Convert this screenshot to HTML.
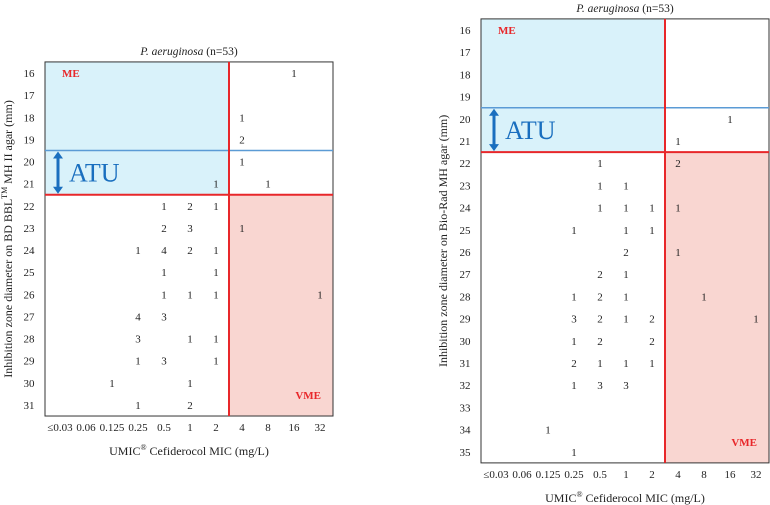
<!DOCTYPE html>
<html><head><meta charset="utf-8"><style>
body{margin:0;background:#fff;}
svg{display:block;font-family:"Liberation Serif",serif;}
</style></head><body>
<svg id="chart" width="770" height="505" viewBox="0 0 770 505"></svg>
<script>
const micLabels = ["≤0.03","0.06","0.125","0.25","0.5","1","2","4","8","16","32"];
const leftRows = [16,17,18,19,20,21,22,23,24,25,26,27,28,29,30,31];
const rightRows = [16,17,18,19,20,21,22,23,24,25,26,27,28,29,30,31,32,33,34,35];
// [zone diameter, MIC index, count]
const leftCounts = [[16,9,1],[18,7,1],[19,7,2],[20,7,1],[21,6,1],[21,8,1],
 [22,4,1],[22,5,2],[22,6,1],[23,4,2],[23,5,3],[23,7,1],
 [24,3,1],[24,4,4],[24,5,2],[24,6,1],[25,4,1],[25,6,1],
 [26,4,1],[26,5,1],[26,6,1],[26,10,1],[27,3,4],[27,4,3],
 [28,3,3],[28,5,1],[28,6,1],[29,3,1],[29,4,3],[29,6,1],
 [30,2,1],[30,5,1],[31,3,1],[31,5,2]];
const rightCounts = [[20,9,1],[21,7,1],[22,4,1],[22,7,2],[23,4,1],[23,5,1],
 [24,4,1],[24,5,1],[24,6,1],[24,7,1],[25,3,1],[25,5,1],[25,6,1],
 [26,5,2],[26,7,1],[27,4,2],[27,5,1],[28,3,1],[28,4,2],[28,5,1],[28,8,1],
 [29,3,3],[29,4,2],[29,5,1],[29,6,2],[29,10,1],[30,3,1],[30,4,2],[30,6,2],
 [31,3,2],[31,4,1],[31,5,1],[31,6,1],[32,3,1],[32,4,3],[32,5,3],[34,2,1],[35,3,1]];
const micBreak = 6.5;   // between 2 and 4
const atuTop = 19.5, atuBottom = 21.5;

const NS="http://www.w3.org/2000/svg";
const svg=document.getElementById('chart');
function mk(tag,attrs,parent,text){const e=document.createElementNS(NS,tag);for(const k in attrs)e.setAttribute(k,attrs[k]);if(text!==undefined)e.textContent=text;(parent||svg).appendChild(e);return e;}

function panel(p){
  const g=mk('g',{});
  
  
  const r0=p.rows[0], rN=p.rows[p.rows.length-1];
  const y=v=>p.y0+(v-r0)*p.dy;
  const x=i=>p.x0+i*26;
  const top=y(r0-0.5), bot=y(rN+0.5), L=p.left, R=p.right;
  const xb=x(micBreak), ya=y(atuTop), yb=y(atuBottom);
  let e;
  e=mk('rect',{x:L,y:top,width:xb-L,height:yb-top,fill:'#d9f2fa'},g);
  
  e=mk('rect',{x:xb,y:yb,width:R-xb,height:bot-yb,fill:'#f9d6d1'},g);
  
  e=mk('rect',{x:L,y:top,width:R-L,height:bot-top,fill:'none',stroke:'#333','stroke-width':1},g);
  
  e=mk('line',{x1:L,x2:R,y1:ya,y2:ya,stroke:'#5b9bd5','stroke-width':1.5},g);
  
  e=mk('line',{x1:L,x2:R,y1:yb,y2:yb,stroke:'#e8272a','stroke-width':2},g);
  
  e=mk('line',{x1:xb,x2:xb,y1:top,y2:bot,stroke:'#e8272a','stroke-width':2},g);
  
  // ATU arrow
  const ax=L+13;
  e=mk('g',{},g);
  mk('line',{x1:ax,x2:ax,y1:ya+6,y2:yb-6,stroke:'#1a6fbf','stroke-width':3},e);
  mk('polygon',{points:`${ax-5},${ya+8} ${ax+5},${ya+8} ${ax},${ya+1}`,fill:'#1a6fbf'},e);
  mk('polygon',{points:`${ax-5},${yb-8} ${ax+5},${yb-8} ${ax},${yb-1}`,fill:'#1a6fbf'},e);
  e=mk('text',{x:L+24,y:(ya+yb)/2+9,'font-size':26,fill:'#1a6fbf'},g,'ATU');
  
  e=mk('text',{x:L+17,y:y(r0)+4,'font-size':11,'font-weight':'bold',fill:'#e8272a'},g,'ME');
  
  e=mk('text',{x:R-12,y:p.vmeY,'font-size':11,'font-weight':'bold',fill:'#e8272a','text-anchor':'end'},g,'VME');
  
  p.rows.forEach(r=>{
    const t=mk('text',{x:L-16,y:y(r)+4,'font-size':11,fill:'#222','text-anchor':'middle'},g,String(r));
    
    
  });
  micLabels.forEach((m,i)=>{
    const t=mk('text',{x:x(i),y:bot+15,'font-size':11,fill:'#222','text-anchor':'middle'},g,m);
    
    
  });
  p.counts.forEach(c=>{
    const t=mk('text',{x:x(c[1]),y:y(c[0])+4,'font-size':11,fill:'#222','text-anchor':'middle'},g,String(c[2]));
    
    
  });
  const mid=(L+R)/2;
  e=mk('text',{x:mid,y:top-7,'font-size':11.5,fill:'#222','text-anchor':'middle'},g);
  
  mk('tspan',{'font-style':'italic'},e,'P. aeruginosa');
  mk('tspan',{},e,' (n=53)');
  e=mk('text',{x:mid,y:bot+39,'font-size':12,fill:'#222','text-anchor':'middle'},g);
  
  mk('tspan',{},e,'UMIC');
  mk('tspan',{'font-size':8,dy:-5},e,'®');
  mk('tspan',{dy:5},e,' Cefiderocol MIC (mg/L)');
  const yc=(top+bot)/2, tx=p.yTitleX;
  e=mk('text',{x:tx,y:yc,'font-size':12,fill:'#222','text-anchor':'middle',transform:`rotate(-90 ${tx} ${yc})`},g);
  
  if(p.bd){mk('tspan',{},e,'Inhibition zone diameter on BD BBL');mk('tspan',{'font-size':8,dy:-5},e,'TM');mk('tspan',{dy:5},e,' MH II agar (mm)');}
  else mk('tspan',{},e,'Inhibition zone diameter on Bio-Rad MH agar (mm)');
}
panel({name:'left-panel',rows:leftRows,counts:leftCounts,y0:73,dy:22.13,x0:60,left:45,right:333,vmeY:399,yTitleX:12,bd:true});
panel({name:'right-panel',rows:rightRows,counts:rightCounts,y0:30,dy:22.2,x0:496,left:481,right:769,vmeY:446,yTitleX:447,bd:false});
</script>
</body></html>
